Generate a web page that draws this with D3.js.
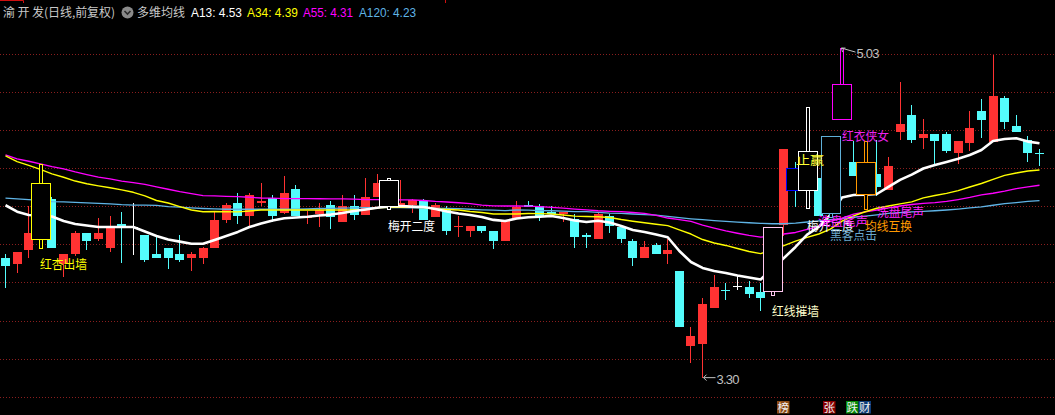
<!DOCTYPE html>
<html><head><meta charset="utf-8">
<script src="https://cdn.jsdelivr.net/npm/d3@7/dist/d3.min.js"></script>
<style>html,body{margin:0;padding:0;background:#000;overflow:hidden}svg{display:block}</style>
</head><body><svg id="c" width="1055" height="415"></svg>
<script>
// ---------- DATA ----------
const openP = [3.930,3.898,3.972,4.026,4.238,3.898,3.949,4.059,4.028,3.982,
 4.107,4.091,4.049,3.949,3.981,3.949,3.930,3.930,3.982,4.128,
 4.217,4.149,4.217,4.241,4.163,4.290,4.136,4.159,4.206,4.117,
 4.201,4.154,4.248,4.201,4.208,4.208,4.229,4.142,4.189,4.092,
 4.071,4.096,4.071,4.019,4.136,4.206,4.201,4.170,4.159,4.131,
 4.049,4.028,4.149,4.092,4.017,3.928,3.996,3.949,3.860,3.466,
 3.477,3.666,3.760,3.781,3.776,3.750,3.756,4.101,4.400,4.287,
 4.348,4.166,4.656,4.432,4.266,4.369,4.283,4.591,4.679,4.560,
 4.579,4.579,4.481,4.533,4.700,4.535,4.768,4.621,4.547,4.479];
const highP = [3.951,3.960,4.201,4.420,4.249,3.949,4.070,4.059,4.138,4.148,
 4.170,4.217,4.050,4.040,3.981,4.049,3.960,3.986,4.170,4.217,
 4.269,4.269,4.322,4.259,4.359,4.311,4.176,4.218,4.229,4.259,
 4.259,4.348,4.369,4.348,4.338,4.239,4.239,4.218,4.201,4.149,
 4.096,4.096,4.071,4.128,4.229,4.227,4.212,4.201,4.170,4.159,
 4.061,4.170,4.159,4.092,4.028,4.017,4.007,4.028,3.860,3.566,
 3.718,3.839,3.797,3.839,3.807,3.797,4.091,4.500,4.434,4.719,
 4.348,4.567,5.030,4.544,4.542,4.547,4.458,4.852,4.731,4.658,
 4.579,4.590,4.542,4.700,4.763,4.995,4.778,4.679,4.569,4.502];
const lowP = [3.769,3.851,3.930,3.982,3.982,3.830,3.940,3.972,4.019,3.961,
 3.900,3.946,3.909,3.930,3.872,3.909,3.861,3.898,3.982,4.110,
 4.107,4.091,4.201,4.119,4.160,4.149,4.107,4.092,4.080,4.117,
 4.128,4.154,4.248,4.187,4.197,4.163,4.128,4.142,4.049,4.037,
 4.040,4.061,3.974,4.019,4.136,4.196,4.121,4.159,4.119,3.982,
 3.982,4.028,4.061,4.008,3.886,3.928,3.949,3.898,3.566,3.378,
 3.300,3.666,3.708,3.760,3.718,3.651,3.735,4.044,4.197,4.189,
 4.150,4.142,4.656,4.360,4.185,4.252,4.283,4.549,4.533,4.502,
 4.416,4.479,4.423,4.491,4.560,4.535,4.604,4.591,4.434,4.413];
const closeP = [3.886,3.960,4.059,4.322,3.982,3.949,4.059,4.019,4.059,4.091,
 4.091,4.091,3.919,3.930,3.930,3.919,3.949,3.981,4.128,4.206,
 4.149,4.259,4.227,4.149,4.269,4.149,4.149,4.180,4.145,4.201,
 4.154,4.248,4.322,4.338,4.218,4.233,4.128,4.206,4.071,4.096,
 4.096,4.071,4.019,4.128,4.197,4.196,4.149,4.159,4.170,4.040,
 4.040,4.159,4.096,4.028,3.928,3.986,3.949,3.970,3.566,3.519,
 3.687,3.776,3.753,3.781,3.739,3.718,4.091,4.500,4.287,4.490,
 4.150,4.567,4.840,4.360,4.432,4.302,4.411,4.632,4.549,4.579,
 4.544,4.491,4.542,4.610,4.654,4.778,4.644,4.591,4.481,4.472];

const ma13 = [4.205,4.171,4.154,4.151,4.146,4.122,4.107,4.099,4.091,4.091,
 4.091,4.091,4.067,4.044,4.025,4.014,4.003,4.003,4.023,4.044,
 4.065,4.091,4.109,4.125,4.137,4.141,4.145,4.151,4.156,4.164,
 4.175,4.183,4.192,4.200,4.201,4.198,4.196,4.185,4.172,4.162,
 4.154,4.143,4.128,4.122,4.135,4.142,4.145,4.149,4.138,4.125,
 4.117,4.124,4.114,4.096,4.075,4.065,4.051,4.037,3.965,3.907,
 3.876,3.860,3.849,3.836,3.826,3.815,3.873,3.928,3.986,4.051,
 4.091,4.154,4.246,4.259,4.261,4.264,4.301,4.338,4.366,4.398,
 4.416,4.432,4.449,4.469,4.495,4.542,4.553,4.557,4.539,4.530];
const ma34 = [4.464,4.434,4.414,4.393,4.370,4.352,4.332,4.318,4.307,4.297,
 4.286,4.273,4.254,4.230,4.217,4.198,4.180,4.171,4.172,4.171,
 4.170,4.175,4.180,4.180,4.180,4.180,4.180,4.180,4.180,4.180,
 4.180,4.183,4.191,4.194,4.194,4.194,4.193,4.186,4.183,4.180,
 4.172,4.167,4.159,4.159,4.159,4.162,4.161,4.159,4.154,4.148,
 4.146,4.145,4.141,4.130,4.121,4.113,4.105,4.098,4.076,4.054,
 4.025,4.007,3.994,3.978,3.962,3.951,3.970,3.993,4.017,4.036,
 4.054,4.080,4.122,4.149,4.171,4.189,4.201,4.212,4.223,4.244,
 4.256,4.267,4.282,4.301,4.319,4.341,4.362,4.374,4.385,4.390];
const ma55 = [4.469,4.449,4.436,4.422,4.408,4.396,4.380,4.366,4.353,4.343,
 4.332,4.324,4.314,4.301,4.289,4.276,4.266,4.256,4.254,4.252,
 4.250,4.247,4.243,4.242,4.240,4.240,4.240,4.239,4.238,4.238,
 4.237,4.235,4.234,4.233,4.233,4.233,4.230,4.225,4.222,4.218,
 4.213,4.206,4.202,4.201,4.201,4.200,4.198,4.194,4.190,4.185,
 4.181,4.176,4.173,4.171,4.167,4.162,4.152,4.138,4.130,4.120,
 4.101,4.085,4.070,4.058,4.047,4.038,4.041,4.054,4.062,4.078,
 4.093,4.120,4.138,4.158,4.170,4.180,4.191,4.201,4.209,4.215,
 4.219,4.225,4.235,4.246,4.259,4.268,4.279,4.292,4.301,4.310];
const ma120 = [4.242,4.238,4.234,4.231,4.224,4.223,4.220,4.217,4.215,4.212,
 4.208,4.206,4.206,4.204,4.198,4.195,4.191,4.188,4.186,4.184,
 4.184,4.184,4.184,4.184,4.184,4.185,4.186,4.188,4.189,4.190,
 4.191,4.192,4.192,4.192,4.192,4.191,4.190,4.189,4.189,4.187,
 4.184,4.181,4.179,4.177,4.180,4.179,4.177,4.176,4.174,4.172,
 4.171,4.168,4.164,4.162,4.159,4.156,4.153,4.147,4.140,4.134,
 4.129,4.124,4.120,4.116,4.113,4.110,4.108,4.108,4.111,4.117,
 4.123,4.129,4.135,4.142,4.148,4.155,4.162,4.166,4.170,4.173,
 4.176,4.180,4.185,4.191,4.197,4.205,4.213,4.219,4.225,4.229];

const gridTicks = [3.2,3.4,3.6,3.8,4.0,4.2,4.4,4.6,4.8,5.0];
const maNames = ["A13","A34","A55","A120"];
const maLast = ["4.53","4.39","4.31","4.23"];
const titleText = "渝 开 发(日线,前复权)";
const indicatorName = "多维均线";
const signalBars = [3,33,66,68,69,71,72,74];
const signalNames = ["红杏出墙","梅开二度","红线摧墙","止赢","梅开二度","黑客点击","红衣侠女","均线互换"];
const extraNames = ["洗盘尾声","洗盘尾声"];
const highMark = 5.03, lowMark = 3.30;
const badgeText = ["榜","张","跌","财"];

// ---------- STYLES ----------
const UP = "#ff3232", DN = "#54fcfc";
const MA_COLORS = ["#ffffff","#ffff00","#ff00ff","#5fb4e6"];
const SIG_COLORS = {3:"#ffff00",33:"#ffffff",66:"#ffc8f0",68:"#0000ff",69:"#ffffff",71:"#5fb0d8",72:"#ff00ff",74:"#ff9900"};
const CJK = "'Noto Sans CJK SC', sans-serif";
const LAT = "'Liberation Sans', Arial, sans-serif";

const svg = d3.select("#c");
svg.append("rect").attr("width",1055).attr("height",415).attr("fill","#000");

const n = closeP.length;
const x = d3.scaleLinear().domain([0, n-1]).range([5.5, 1039.5]);
const y = d3.scaleLinear().domain([4, 5]).range([244.3, 53.8]);

// grid
svg.append("g").selectAll("line").data(gridTicks).join("line")
  .attr("x1",0).attr("x2",1055)
  .attr("y1",d=>Math.round(y(d))+0.5).attr("y2",d=>Math.round(y(d))+0.5)
  .attr("stroke","#8a1e1e").attr("stroke-width",1).attr("stroke-dasharray","1,2");

// candles
const bars = d3.range(n).map(i=>({i,o:openP[i],h:highP[i],l:lowP[i],c:closeP[i]}));
const col = d=> d.c>d.o ? UP : (d.c<d.o ? DN : "#ffffff");
const left = d=> Math.round(x(d.i)-4.5);
const gC = svg.append("g").attr("shape-rendering","crispEdges");
gC.selectAll("line").data(bars).join("line")
  .attr("x1",d=>left(d)+4.5).attr("x2",d=>left(d)+4.5)
  .attr("y1",d=>Math.round(y(d.h))).attr("y2",d=>Math.round(y(d.l)))
  .attr("stroke",col).attr("stroke-width",1);
gC.selectAll("rect").data(bars).join("rect")
  .attr("x",left).attr("width",9)
  .attr("y",d=>Math.round(y(Math.max(d.o,d.c))))
  .attr("height",d=>Math.max(1, Math.round(y(Math.min(d.o,d.c)))-Math.round(y(Math.max(d.o,d.c)))))
  .attr("fill",col);

// moving averages
const series = [ma120, ma55, ma34, ma13];
const sCols = [MA_COLORS[3],MA_COLORS[2],MA_COLORS[1],MA_COLORS[0]];
const sW = [1.3,1.3,1.4,2.6];
const line = d3.line().x((d,i)=>x(i)).y(d=>y(d));
series.forEach((s,k)=>{
  svg.append("path").datum(s).attr("d",line).attr("fill","none")
    .attr("stroke",sCols[k]).attr("stroke-width",sW[k]).attr("stroke-linejoin","round");
});

// signal boxes
const gS = svg.append("g").attr("shape-rendering","crispEdges");
signalBars.forEach(i=>{
  const d = bars[i], c = SIG_COLORS[i];
  const cx = Math.round(x(i)-0.5)+0.5;
  const top = Math.round(y(Math.max(d.o,d.c)))+0.5, bot = Math.round(y(Math.min(d.o,d.c)))+0.5;
  if (i!==68) {
    gS.append("rect").attr("x",cx-1.5).attr("width",3)
      .attr("y",Math.round(y(d.h))+0.5).attr("height",Math.round(y(d.l))-Math.round(y(d.h)))
      .attr("fill","#000").attr("stroke",c).attr("stroke-width",1);
  }
  gS.append("rect").attr("x",cx-9.5).attr("width",19)
    .attr("y",top).attr("height",bot-top)
    .attr("fill","#000").attr("stroke",c).attr("stroke-width",1);
});

// annotation labels
function label(txt, xi, p, color, len){
  svg.append("text").attr("x",x(xi)).attr("y",y(p)).text(txt)
    .attr("fill",color).attr("font-family",CJK).attr("font-size",12.5)
    .attr("textLength",len).attr("lengthAdjust","spacingAndGlyphs");
}
label(signalNames[0], 2.97, 3.870, "#ffff00", 47);
label(signalNames[1], 32.92, 4.070, "#ffffff", 47);
label(signalNames[2], 65.98, 3.624, "#ffffcc", 47);
label(signalNames[4], 68.99, 4.070, "#ffffff", 47);
label(extraNames[0], 69.93, 4.096, "#ff22ff", 50);
label(extraNames[1], 75.01, 4.143, "#ff22ff", 47);
label(signalNames[7], 73.98, 4.070, "#ff9900", 47);
label(signalNames[5], 70.97, 4.023, "#6aa8cc", 47);
label(signalNames[6], 72.0, 4.542, "#ee22ee", 47);
label(signalNames[3], 68.04, 4.416, "#ffff33", 28);

// high / low marks
const gray = "#c0c0c0";
const hx = Math.round(x(72)-0.5)+0.5, hy = y(highMark);
svg.append("path").attr("d",`M${hx},${hy} L${hx+14},${hy+4} M${hx},${hy} l4,0 M${hx},${hy} l1,4`)
  .attr("stroke",gray).attr("fill","none").attr("stroke-width",1);
svg.append("text").attr("x",hx+15).attr("y",hy+10).text(highMark.toFixed(2))
  .attr("fill",gray).attr("font-family",LAT).attr("font-size",13).attr("textLength",23);
const lx = Math.round(x(60)-0.5)+0.5, ly = y(lowMark);
svg.append("path").attr("d",`M${lx+1},${ly} L${lx+13},${ly} M${lx+1},${ly} l3,-3 M${lx+1},${ly} l3,3`)
  .attr("stroke",gray).attr("fill","none").attr("stroke-width",1);
svg.append("text").attr("x",lx+14).attr("y",ly+6).text(lowMark.toFixed(2))
  .attr("fill",gray).attr("font-family",LAT).attr("font-size",13).attr("textLength",23);

// header
svg.append("path").attr("d","M0,0.5 H23.5 V3 M445.5,0 V3").attr("stroke","#d01010").attr("fill","none");
svg.append("text").attr("x",3).attr("y",17).text(titleText)
  .attr("fill","#c8c8c8").attr("font-family",CJK).attr("font-size",12).attr("textLength",112);
svg.append("circle").attr("cx",127.5).attr("cy",12.5).attr("r",6).attr("fill","#8a8a8a");
svg.append("path").attr("d","M124.5,11 L127.5,14 L130.5,11").attr("stroke","#2a2a2a").attr("stroke-width",1.6).attr("fill","none");
svg.append("text").attr("x",137).attr("y",17).text(indicatorName)
  .attr("fill","#c8c8c8").attr("font-family",CJK).attr("font-size",12).attr("textLength",48);
const hX = [191,247,303,359], hL = [51,51,50,57];
maNames.forEach((nm,k)=>{
  svg.append("text").attr("x",hX[k]).attr("y",17).text(nm+": "+maLast[k])
    .attr("fill",MA_COLORS[k]).attr("font-family",LAT).attr("font-size",13)
    .attr("textLength",hL[k]).attr("lengthAdjust","spacingAndGlyphs");
});

// bottom badges
const bX = [777,823,846,858.5], bC = ["#8b4a14","#8b0000","#078a07","#0c3c78"];
badgeText.forEach((t,k)=>{
  svg.append("rect").attr("x",bX[k]).attr("y",401).attr("width",12.5).attr("height",12.5).attr("fill",bC[k]);
  svg.append("text").attr("x",bX[k]+6.25).attr("y",412).attr("text-anchor","middle").text(t)
    .attr("fill","#f0f0f0").attr("font-family",CJK).attr("font-size",11.5);
});
</script></body></html>
